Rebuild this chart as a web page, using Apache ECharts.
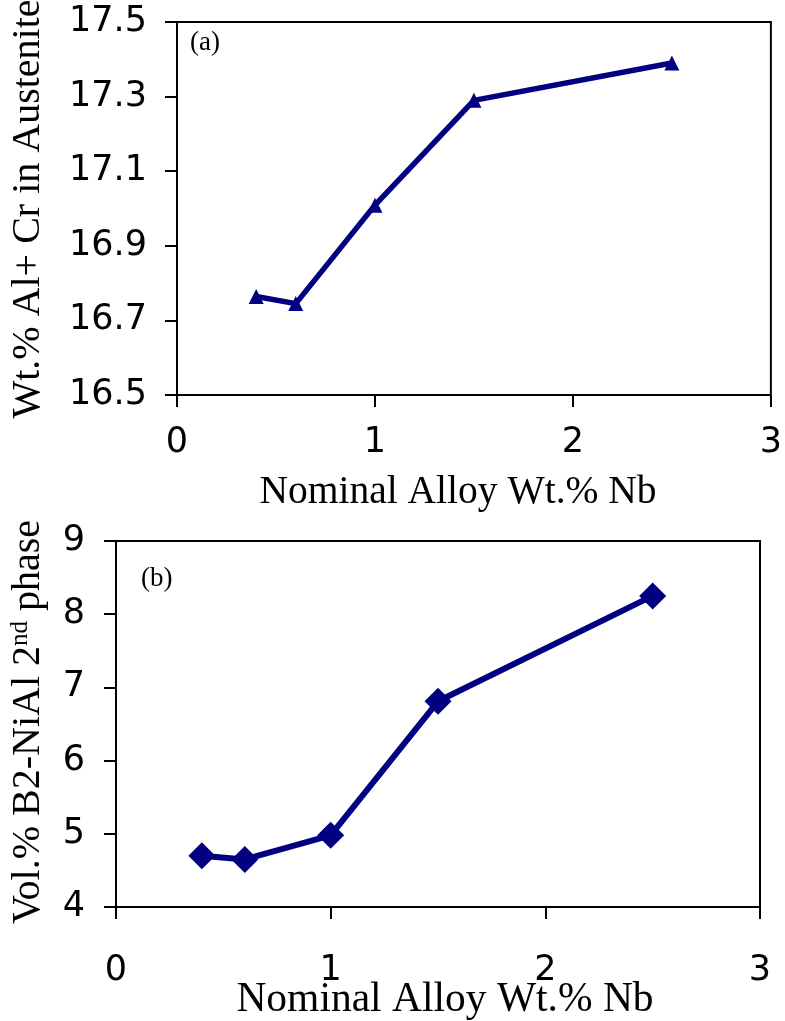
<!DOCTYPE html>
<html><head><meta charset="utf-8">
<script src="https://cdn.jsdelivr.net/npm/echarts@6/dist/echarts.min.js"></script>
<style>html,body{margin:0;padding:0;background:#fff}#c{width:785px;height:1021px}</style>
</head><body><div id="c"></div>
<script>
const nbWt = [0.4, 0.6, 1.0, 1.5, 2.5];
const alCrAustenite = [16.764, 16.745, 17.009, 17.29, 17.39];
const volB2NiAl = [4.70, 4.65, 4.98, 6.81, 8.25];
const xTicks = [0, 1, 2, 3];
const yTicksA = [16.5, 16.7, 16.9, 17.1, 17.3, 17.5];
const yTicksB = [4, 5, 6, 7, 8, 9];
const xTitle = 'Nominal Alloy Wt.% Nb';
const yTitleA = 'Wt.% Al+ Cr in Austenite';
const panelA = '(a)', panelB = '(b)';

const navy = '#000080';
const tickFont = {fontFamily: 'DejaVu Sans', fontSize: 35, color: '#000'};
const axLine = {show: true, onZero: false, lineStyle: {color: '#000', width: 2}};
const axTick = {show: true, inside: false, length: 12, lineStyle: {color: '#000', width: 2}};

const chart = echarts.init(document.getElementById('c'), null, {renderer: 'canvas'});
chart.setOption({
  animation: false,
  backgroundColor: '#fff',
  grid: [
    {left: 177, top: 22, width: 599, height: 373, show: true, borderColor: '#000', borderWidth: 2, backgroundColor: 'transparent'},
    {left: 116, top: 541, width: 644, height: 366, show: true, borderColor: '#000', borderWidth: 2, backgroundColor: 'transparent'}
  ],
  xAxis: [
    {gridIndex: 0, type: 'value', min: 0, max: 3, interval: 1, axisLine: axLine, axisTick: axTick, splitLine: {show: false},
     axisLabel: Object.assign({margin: 30, formatter: v => xTicks.includes(v) ? String(v) : ''}, tickFont)},
    {gridIndex: 1, type: 'value', min: 0, max: 3, interval: 1, axisLine: axLine, axisTick: axTick, splitLine: {show: false},
     axisLabel: Object.assign({margin: 46, formatter: v => xTicks.includes(v) ? String(v) : ''}, tickFont)}
  ],
  yAxis: [
    {gridIndex: 0, type: 'value', min: 16.5, max: 17.5, interval: 0.2, axisLine: axLine, axisTick: axTick, splitLine: {show: false},
     axisLabel: Object.assign({margin: 30, formatter: v => v.toFixed(1)}, tickFont)},
    {gridIndex: 1, type: 'value', min: 4, max: 9, interval: 1, axisLine: axLine, axisTick: axTick, splitLine: {show: false},
     axisLabel: Object.assign({margin: 31, formatter: v => String(v)}, tickFont)}
  ],
  series: [
    {type: 'line', xAxisIndex: 0, yAxisIndex: 0, data: nbWt.map((x, i) => [x, alCrAustenite[i]]),
     symbol: 'triangle', symbolSize: 15, lineStyle: {color: navy, width: 5.5}, itemStyle: {color: navy}},
    {type: 'line', xAxisIndex: 1, yAxisIndex: 1, data: nbWt.map((x, i) => [x, volB2NiAl[i]]),
     symbol: 'diamond', symbolSize: 27, lineStyle: {color: navy, width: 6}, itemStyle: {color: navy}}
  ],
  graphic: [
    {type: 'text', left: 190, top: 29, style: {text: panelA, font: '27px "Liberation Serif"', fill: '#000'}},
    {type: 'text', left: 141, top: 565, style: {text: panelB, font: '27px "Liberation Serif"', fill: '#000'}},
    {type: 'text', x: 458, y: 493, style: {text: xTitle, font: '39.5px "Liberation Serif"', fill: '#000', align: 'center', verticalAlign: 'middle'}},
    {type: 'text', x: 445, y: 1000, style: {text: xTitle, font: '41.5px "Liberation Serif"', fill: '#000', align: 'center', verticalAlign: 'middle'}},
    {type: 'text', x: 28, y: 209, rotation: Math.PI / 2, style: {text: yTitleA, font: '40px "Liberation Serif"', fill: '#000', align: 'center', verticalAlign: 'middle'}},
    {type: 'text', x: 28, y: 722, rotation: Math.PI / 2,
     style: {text: '{n|Vol.% B2-NiAl 2}{s|nd}{n| phase}', fill: '#000', align: 'center', verticalAlign: 'middle',
       rich: {n: {font: '40px "Liberation Serif"', fill: '#000'}, s: {font: '25px "Liberation Serif"', fill: '#000', verticalAlign: 'top', padding: [0, 0, 15, 0]}}}}
  ]
});
</script></body></html>
